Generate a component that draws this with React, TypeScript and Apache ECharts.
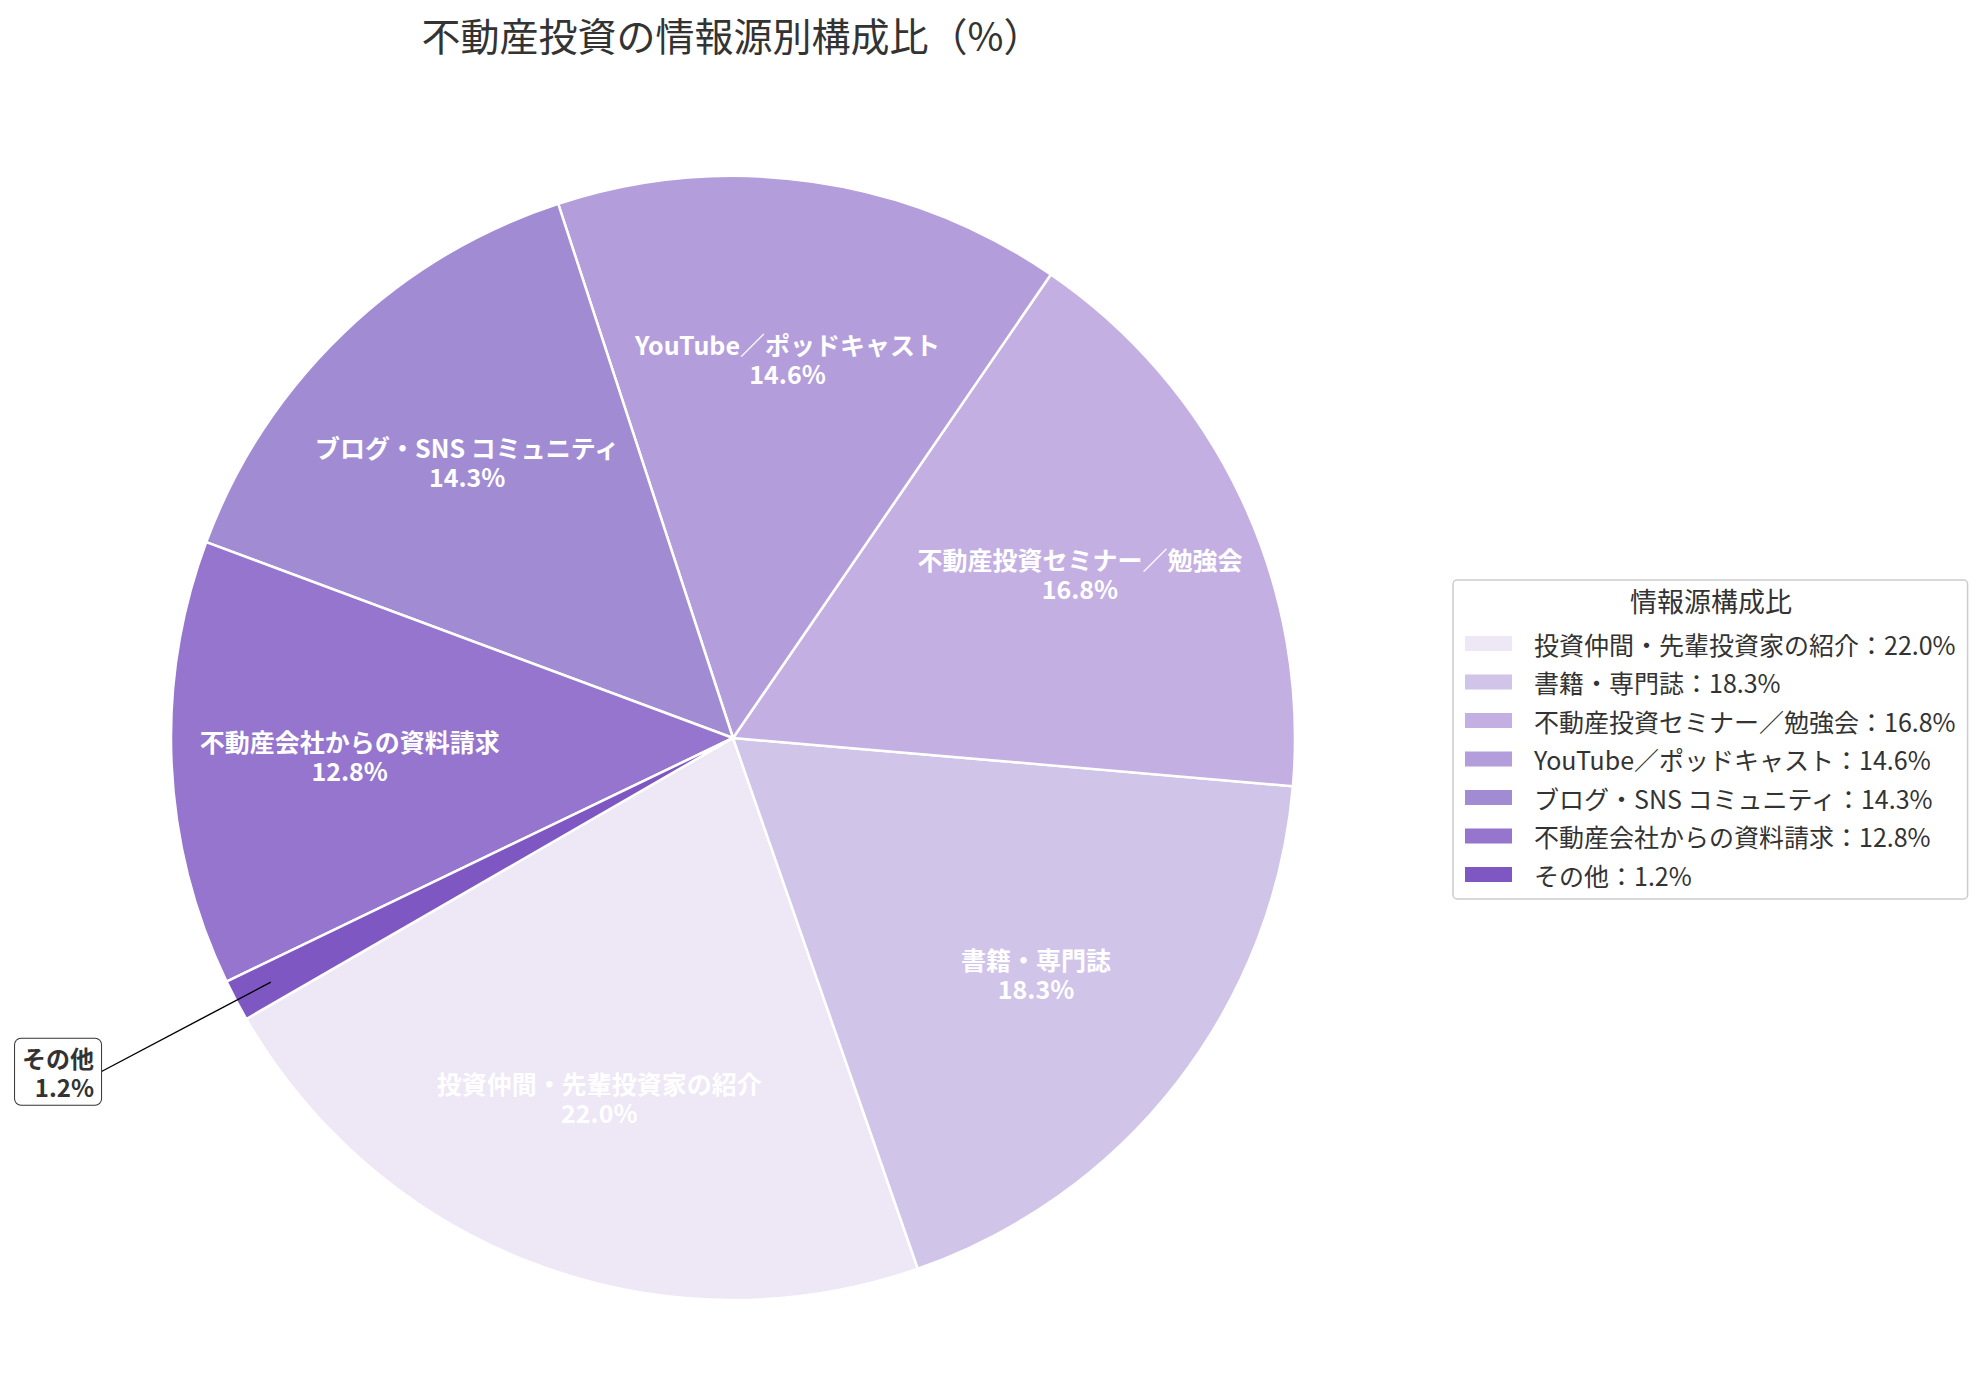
import React, { useEffect, useRef } from 'react';
import * as echarts from 'echarts';

const FONT = '"Noto Sans CJK JP", "Noto Sans", sans-serif';

// categories & values (%)
const categories = [
  '投資仲間・先輩投資家の紹介',
  '書籍・専門誌',
  '不動産投資セミナー／勉強会',
  'YouTube／ポッドキャスト',
  'ブログ・SNS コミュニティ',
  '不動産会社からの資料請求',
  'その他',
];
const shares = [22.0, 18.3, 16.8, 14.6, 14.3, 12.8, 1.2];
const colors = ['#EDE7F6', '#D1C4E9', '#C4AFE3', '#B39DDB', '#A18CD4', '#9575CD', '#7E57C2'];
const smallSlices = ['その他'];

const CENTER = [733, 738];
const R = 562;
const START = 210;

const App: React.FC = () => {
  const chartRef = useRef<HTMLDivElement>(null);

  useEffect(() => {
    if (!chartRef.current) return;
    const chart = echarts.init(chartRef.current, null, { renderer: 'svg' });

    const baseData = categories.map((name, i) => ({ name, value: shares[i] }));
    const fmt = (p: any) => `${p.name}\n${Number(p.value).toFixed(1)}%`;

    const option = {
      animation: false,
      backgroundColor: '#ffffff',
      title: [
        {
          text: '不動産投資の情報源別構成比（%）',
          left: 732,
          top: 14,
          textAlign: 'center',
          padding: 0,
          textStyle: { fontFamily: FONT, fontSize: 39, fontWeight: 'normal', color: '#333333' },
        },
        {
          text: '情報源構成比',
          left: 1711,
          top: 587,
          textAlign: 'center',
          padding: 0,
          textStyle: { fontFamily: FONT, fontSize: 27, fontWeight: 'normal', color: '#333333' },
        },
      ],
      legend: {
        orient: 'vertical',
        left: 1453,
        top: 580,
        padding: [51, 12, 12, 12],
        backgroundColor: '#ffffff',
        borderColor: '#cccccc',
        borderWidth: 1.5,
        borderRadius: 4,
        icon: 'rect',
        itemWidth: 47,
        itemHeight: 15,
        itemGap: 13.5,
        selectedMode: false,
        itemStyle: { borderWidth: 0 },
        textStyle: { fontFamily: FONT, fontSize: 25, color: '#333333', padding: [0, 0, 0, 17] },
        data: categories.map((name, i) => ({ name, itemStyle: { color: colors[i], borderWidth: 0 } })),
        formatter: (name: string) => {
          const i = categories.indexOf(name);
          return `${name}：${shares[i].toFixed(1)}%`;
        },
      },
      series: [
        {
          name: '情報源',
          type: 'pie',
          center: CENTER,
          radius: [0, R],
          startAngle: START,
          clockwise: false,
          silent: true,
          avoidLabelOverlap: false,
          z: 2,
          itemStyle: { borderColor: '#ffffff', borderWidth: 2.5 },
          label: { show: false },
          labelLine: { show: false },
          data: baseData.map((d, i) => ({ ...d, itemStyle: { color: colors[i] } })),
        },
        {
          // inside labels
          name: 'labels',
          type: 'pie',
          center: CENTER,
          radius: [R * 0.355, R],
          startAngle: START,
          clockwise: false,
          silent: true,
          avoidLabelOverlap: false,
          z: 3,
          itemStyle: { color: 'rgba(0,0,0,0)', borderWidth: 0 },
          label: {
            show: true,
            position: 'inside',
            formatter: fmt,
            color: '#ffffff',
            fontFamily: FONT,
            fontSize: 25,
            fontWeight: 'bold',
            lineHeight: 29,
            align: 'center',
          },
          labelLine: { show: false },
          data: baseData.map((d) => ({
            ...d,
            label: { show: !smallSlices.includes(d.name) },
          })),
        },
        {
          // callout for the tiny slice
          name: 'callout',
          type: 'pie',
          center: CENTER,
          radius: [0, R * 0.93],
          startAngle: START,
          clockwise: false,
          silent: true,
          avoidLabelOverlap: false,
          z: 4,
          itemStyle: { color: 'rgba(0,0,0,0)', borderWidth: 0 },
          label: {
            show: false,
            position: 'outside',
            formatter: fmt,
            color: '#333333',
            fontFamily: FONT,
            fontSize: 24,
            fontWeight: 'bold',
            lineHeight: 29,
            backgroundColor: '#ffffff',
            borderColor: '#333333',
            borderWidth: 1,
            borderRadius: 6,
            padding: [4, 7, 4, 7],
            distanceToLabelLine: 0,
          },
          labelLine: {
            show: false,
            length: 192,
            length2: 0,
            smooth: false,
            lineStyle: { color: '#000000', width: 1.4 },
          },
          data: baseData.map((d) => {
            const on = smallSlices.includes(d.name);
            return { ...d, label: { show: on }, labelLine: { show: on } };
          }),
        },
      ],
    };

    chart.setOption(option as any);

    return () => {
      chart.dispose();
    };
  }, []);

  return (
    <div
      ref={chartRef}
      style={{ position: 'fixed', left: 0, top: 0, width: '1985px', height: '1380px' }}
    />
  );
};

export default App;
